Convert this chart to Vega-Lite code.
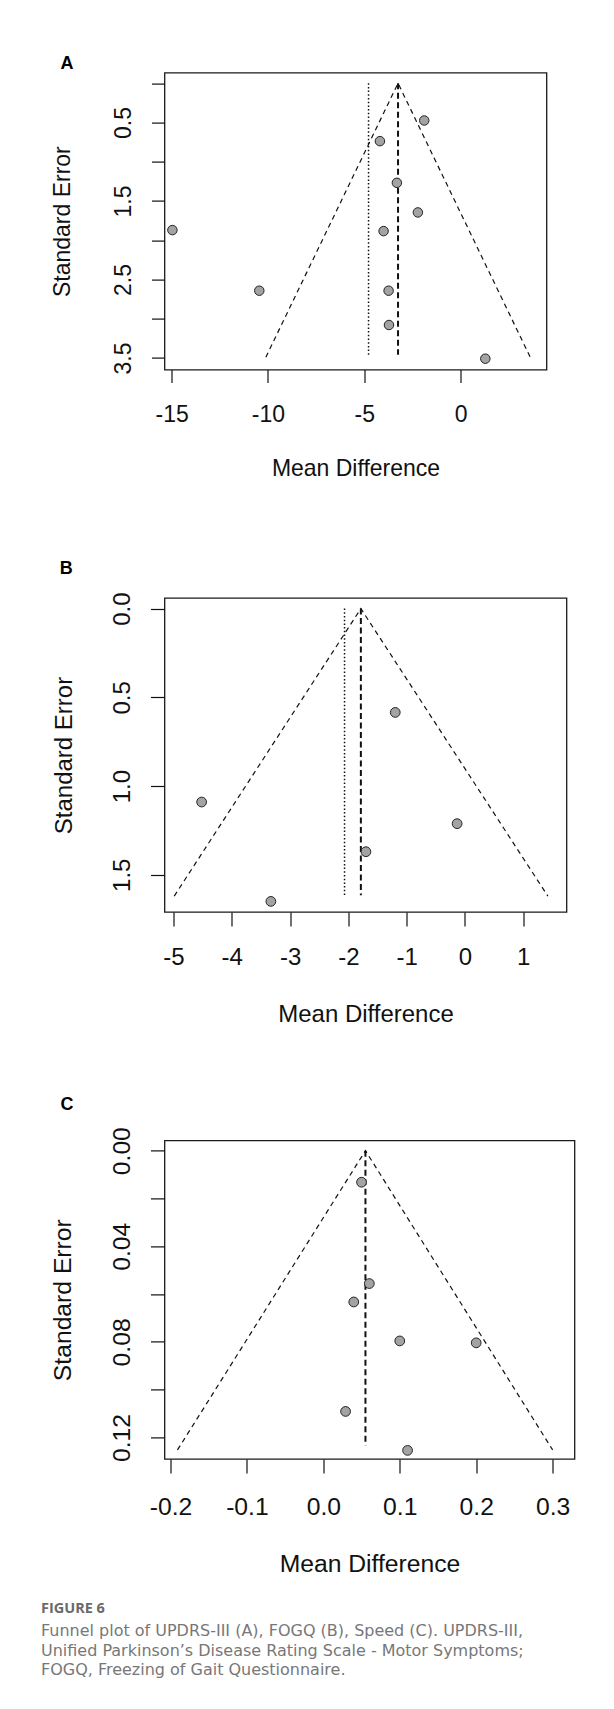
{
  "$schema": "https://vega.github.io/schema/vega-lite/v6.json",
  "background": "white",
  "padding": {"left": 40.5, "top": 53.6, "right": 10, "bottom": 10},
  "spacing": 228.4,
  "bounds": "flush",
  "config": {
    "view": {"stroke": "#1a1a1a", "strokeWidth": 1.3},
    "axis": {"domain": false, "grid": false, "tickColor": "#111", "tickWidth": 1.2, "labelColor": "#111", "titleColor": "#111", "labelFont": "Liberation Sans", "titleFont": "Liberation Sans", "titleFontWeight": "normal", "labelOverlap": false, "labelFlush": false, "labelBound": false}
  },
  "title": {
    "text": "FIGURE 6",
    "subtitle": ["Funnel plot of UPDRS-III (A), FOGQ (B), Speed (C). UPDRS-III,", "Unified Parkinson’s Disease Rating Scale - Motor Symptoms;", "FOGQ, Freezing of Gait Questionnaire."],
    "orient": "bottom", "anchor": "start", "frame": "group", "dx": -123.5, "offset": 25,
    "font": "Open Sans", "fontSize": 14.5, "fontWeight": "bold", "color": "#6a6a6a",
    "subtitleFont": "DejaVu Sans", "subtitleFontSize": 16, "subtitleColor": "#777777", "subtitleLineHeight": 19.5, "subtitlePadding": 7
  },
  "datasets": {
    "ptsA": [
      {"md": -1.89, "se": 0.475}, {"md": -4.19, "se": 0.738}, {"md": -3.31, "se": 1.269},
      {"md": -2.22, "se": 1.646}, {"md": -14.96, "se": 1.871}, {"md": -4.0, "se": 1.884},
      {"md": -10.45, "se": 2.643}, {"md": -3.74, "se": 2.643}, {"md": -3.72, "se": 3.08},
      {"md": 1.28, "se": 3.509}
    ],
    "lnA": [
      {"md": -10.11, "se": 3.49, "kind": "funnel"}, {"md": -3.25, "se": 0, "kind": "funnel"}, {"md": 3.61, "se": 3.49, "kind": "funnel"},
      {"md": -3.25, "se": 0, "kind": "estimate"}, {"md": -3.25, "se": 3.46, "kind": "estimate"},
      {"md": -4.78, "se": 0, "kind": "dotted"}, {"md": -4.78, "se": 3.47, "kind": "dotted"}
    ],
    "ptsB": [
      {"md": -1.195, "se": 0.585}, {"md": -4.517, "se": 1.09}, {"md": -0.134, "se": 1.212},
      {"md": -1.698, "se": 1.37}, {"md": -3.329, "se": 1.65}
    ],
    "lnB": [
      {"md": -4.987, "se": 1.62, "kind": "funnel"}, {"md": -1.785, "se": 0, "kind": "funnel"}, {"md": 1.423, "se": 1.62, "kind": "funnel"},
      {"md": -1.785, "se": 0, "kind": "estimate"}, {"md": -1.785, "se": 1.616, "kind": "estimate"},
      {"md": -2.065, "se": 0, "kind": "dotted"}, {"md": -2.065, "se": 1.62, "kind": "dotted"}
    ],
    "ptsC": [
      {"md": 0.05, "se": 0.0132}, {"md": 0.0602, "se": 0.0556}, {"md": 0.0398, "se": 0.0633},
      {"md": 0.1, "se": 0.0796}, {"md": 0.2, "se": 0.0804}, {"md": 0.0291, "se": 0.1091},
      {"md": 0.1102, "se": 0.1254}
    ],
    "lnC": [
      {"md": -0.1908, "se": 0.1252, "kind": "funnel"}, {"md": 0.0551, "se": 0, "kind": "funnel"}, {"md": 0.3, "se": 0.1252, "kind": "funnel"},
      {"md": 0.0551, "se": 0, "kind": "estimate"}, {"md": 0.0551, "se": 0.1234, "kind": "estimate"}
    ]
  },
  "vconcat": [
    {
      "width": 382, "height": 297,
      "title": {"text": "A", "anchor": "start", "frame": "group", "dx": -104, "offset": -14.3, "baseline": "alphabetic", "font": "Liberation Sans", "fontSize": 18, "fontWeight": "bold", "color": "#000"},
      "encoding": {
        "x": {"field": "md", "type": "quantitative", "scale": {"domain": [-15.37, 4.455], "nice": false, "zero": false},
          "axis": {"values": [-15, -10, -5, 0], "labelExpr": "datum.value < 0 ? '-' + format(-datum.value, 'd') : format(datum.value, 'd')", "tickSize": 13, "labelPadding": 38.7, "labelBaseline": "alphabetic", "labelFontSize": 23, "title": "Mean Difference", "titleFontSize": 23, "titleBaseline": "alphabetic", "titleY": 105.5, "titleX": 191, "titleAlign": "center"}},
        "y": {"field": "se", "type": "quantitative", "scale": {"domain": [-0.135, 3.648], "nice": false, "zero": false, "reverse": true},
          "axis": {"values": [0, 0.5, 1, 1.5, 2, 2.5, 3, 3.5], "labelExpr": "(datum.value * 2) % 2 == 1 ? format(datum.value, '.1f') : ''", "tickSize": 13, "labelAngle": -90, "labelAlign": "center", "labelBaseline": "alphabetic", "labelPadding": 21, "labelFontSize": 23, "title": "Standard Error", "titleFontSize": 23, "titleAngle": -90, "titleAlign": "center", "titleBaseline": "alphabetic", "titleX": -95.4, "titleY": 148.5}}
      },
      "layer": [
        {"data": {"name": "lnA"}, "transform": [{"filter": "datum.kind == 'funnel'"}], "mark": {"type": "line", "strokeDash": [5, 4], "strokeWidth": 1.2, "color": "#111"}, "encoding": {}},
        {"data": {"name": "lnA"}, "transform": [{"filter": "datum.kind == 'estimate'"}], "mark": {"type": "line", "strokeDash": [6, 3.5], "strokeWidth": 2, "color": "#111"}, "encoding": {}},
        {"data": {"name": "lnA"}, "transform": [{"filter": "datum.kind == 'dotted'"}], "mark": {"type": "line", "strokeDash": [1.5, 2.2], "strokeWidth": 1.5, "color": "#111"}, "encoding": {}},
        {"data": {"name": "ptsA"}, "mark": {"type": "point", "shape": "circle", "filled": true, "fill": "#a3a3a3", "stroke": "#222", "strokeWidth": 1, "size": 90, "opacity": 1}, "encoding": {}}
      ]
    },
    {
      "width": 402, "height": 314,
      "title": {"text": "B", "anchor": "start", "frame": "group", "dx": -104.7, "offset": 0.2, "baseline": "alphabetic", "font": "Liberation Sans", "fontSize": 18, "fontWeight": "bold", "color": "#000"},
      "encoding": {
        "x": {"field": "md", "type": "quantitative", "scale": {"domain": [-5.154, 1.743], "nice": false, "zero": false},
          "axis": {"values": [-5, -4, -3, -2, -1, 0, 1], "labelExpr": "datum.value < 0 ? '-' + format(-datum.value, 'd') : format(datum.value, 'd')", "tickSize": 14, "labelPadding": 38.9, "labelBaseline": "alphabetic", "labelFontSize": 24, "title": "Mean Difference", "titleFontSize": 24, "titleBaseline": "alphabetic", "titleY": 110, "titleX": 201, "titleAlign": "center"}},
        "y": {"field": "se", "type": "quantitative", "scale": {"domain": [-0.0598, 1.7097], "nice": false, "zero": false, "reverse": true},
          "axis": {"values": [0, 0.5, 1, 1.5], "labelExpr": "format(datum.value, '.1f')", "tickSize": 14, "labelAngle": -90, "labelAlign": "center", "labelBaseline": "alphabetic", "labelPadding": 21, "labelFontSize": 24, "title": "Standard Error", "titleFontSize": 24, "titleAngle": -90, "titleAlign": "center", "titleBaseline": "alphabetic", "titleX": -93.3, "titleY": 157}}
      },
      "layer": [
        {"data": {"name": "lnB"}, "transform": [{"filter": "datum.kind == 'funnel'"}], "mark": {"type": "line", "strokeDash": [5, 4], "strokeWidth": 1.2, "color": "#111"}, "encoding": {}},
        {"data": {"name": "lnB"}, "transform": [{"filter": "datum.kind == 'estimate'"}], "mark": {"type": "line", "strokeDash": [6, 3.5], "strokeWidth": 2, "color": "#111"}, "encoding": {}},
        {"data": {"name": "lnB"}, "transform": [{"filter": "datum.kind == 'dotted'"}], "mark": {"type": "line", "strokeDash": [1.5, 2.2], "strokeWidth": 1.5, "color": "#111"}, "encoding": {}},
        {"data": {"name": "ptsB"}, "mark": {"type": "point", "shape": "circle", "filled": true, "fill": "#a3a3a3", "stroke": "#222", "strokeWidth": 1, "size": 95, "opacity": 1}, "encoding": {}}
      ]
    },
    {
      "width": 410, "height": 318.6,
      "title": {"text": "C", "anchor": "start", "frame": "group", "dx": -104, "offset": -1.3, "baseline": "alphabetic", "font": "Liberation Sans", "fontSize": 18, "fontWeight": "bold", "color": "#000"},
      "encoding": {
        "x": {"field": "md", "type": "quantitative", "scale": {"domain": [-0.2078, 0.3286], "nice": false, "zero": false},
          "axis": {"values": [-0.2, -0.1, 0, 0.1, 0.2, 0.3], "labelExpr": "datum.value < 0 ? '-' + format(-datum.value, '.1f') : format(datum.value, '.1f')", "tickSize": 14, "labelPadding": 41.7, "labelBaseline": "alphabetic", "labelFontSize": 24.7, "title": "Mean Difference", "titleFontSize": 24.7, "titleBaseline": "alphabetic", "titleY": 112.4, "titleX": 205, "titleAlign": "center"}},
        "y": {"field": "se", "type": "quantitative", "scale": {"domain": [-0.0043, 0.129], "nice": false, "zero": false, "reverse": true},
          "axis": {"values": [0, 0.02, 0.04, 0.06, 0.08, 0.1, 0.12], "labelExpr": "round(datum.value * 100) % 4 == 0 ? format(datum.value, '.2f') : ''", "tickSize": 14, "labelAngle": -90, "labelAlign": "center", "labelBaseline": "alphabetic", "labelPadding": 21, "labelFontSize": 24.7, "title": "Standard Error", "titleFontSize": 24.7, "titleAngle": -90, "titleAlign": "center", "titleBaseline": "alphabetic", "titleX": -94, "titleY": 159.3}}
      },
      "layer": [
        {"data": {"name": "lnC"}, "transform": [{"filter": "datum.kind == 'funnel'"}], "mark": {"type": "line", "strokeDash": [5, 4], "strokeWidth": 1.2, "color": "#111"}, "encoding": {}},
        {"data": {"name": "lnC"}, "transform": [{"filter": "datum.kind == 'estimate'"}], "mark": {"type": "line", "strokeDash": [6, 3.5], "strokeWidth": 2, "color": "#111"}, "encoding": {}},
        {"data": {"name": "ptsC"}, "mark": {"type": "point", "shape": "circle", "filled": true, "fill": "#a3a3a3", "stroke": "#222", "strokeWidth": 1, "size": 95, "opacity": 1}, "encoding": {}}
      ]
    }
  ]
}
